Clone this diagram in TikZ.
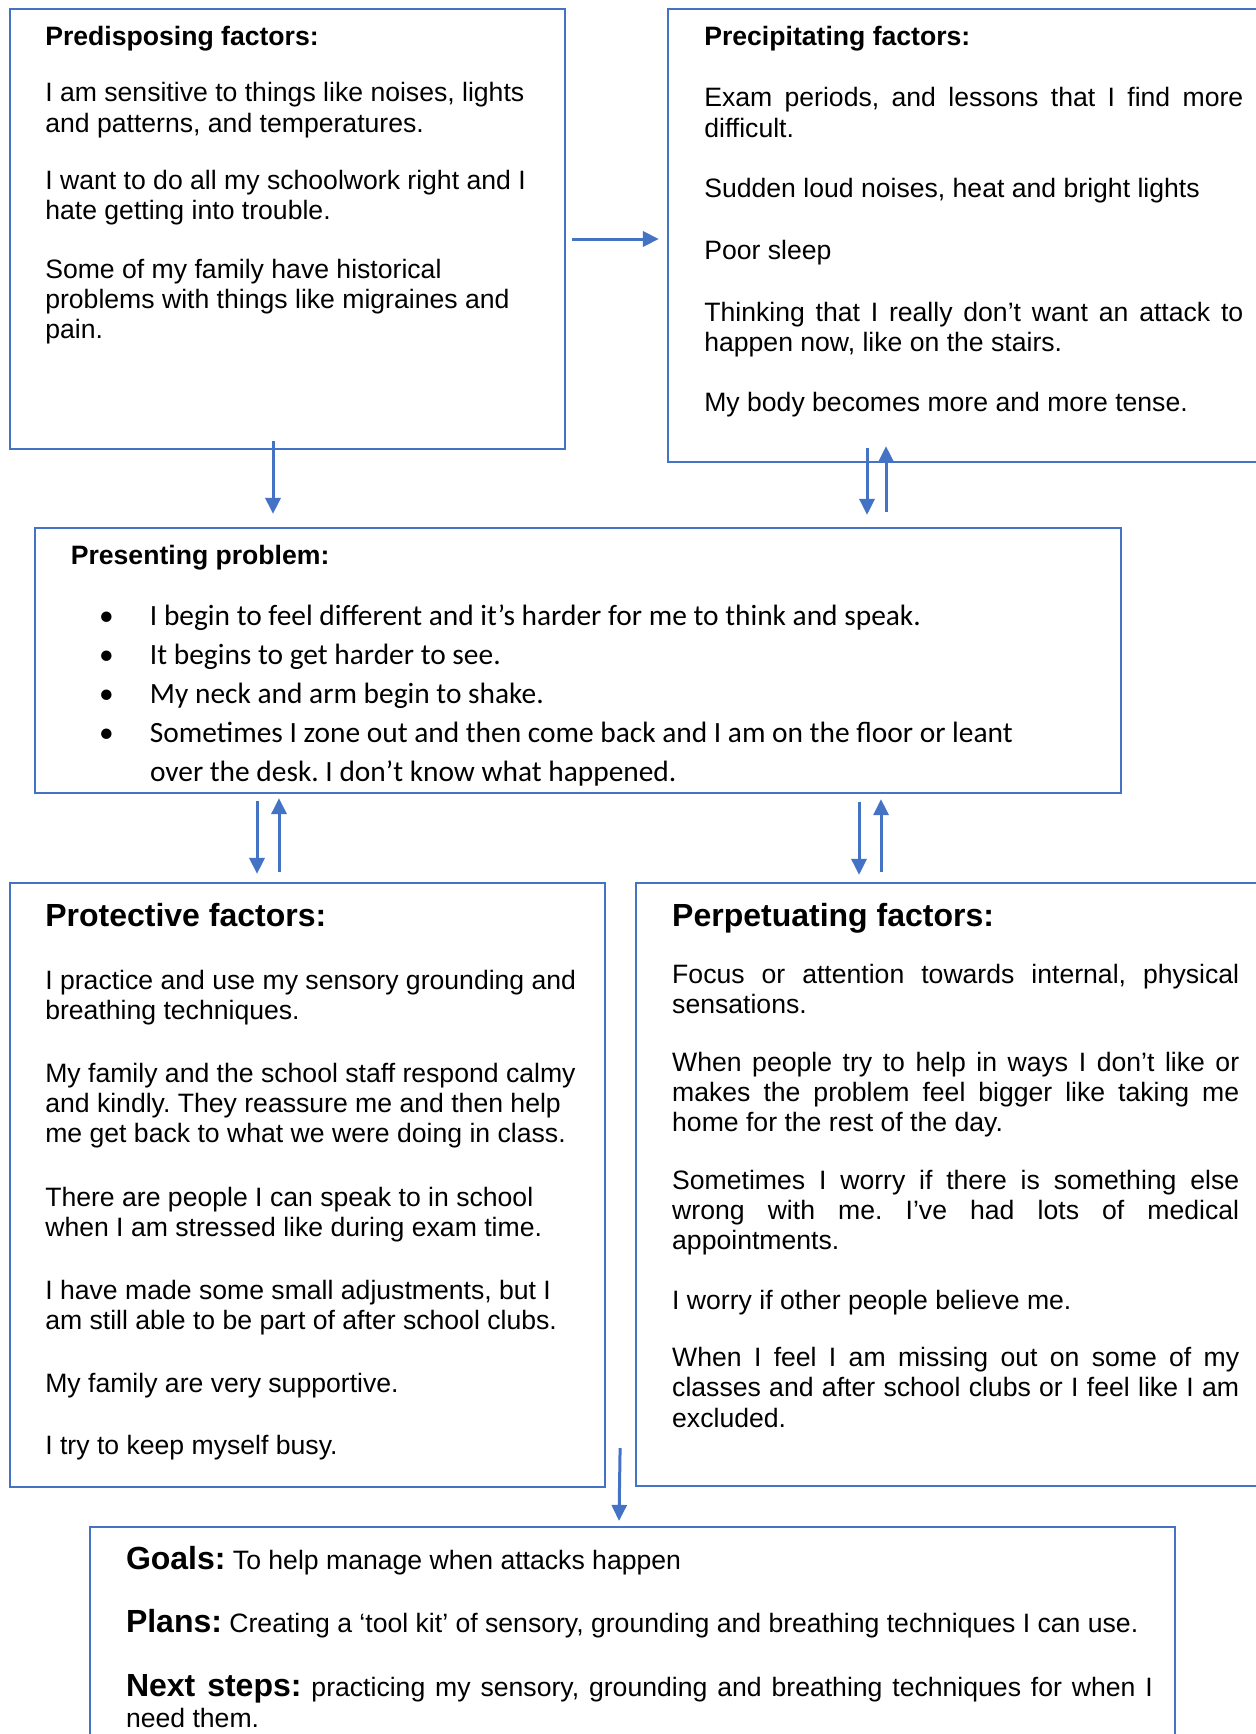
\documentclass[tikz,border=0pt]{standalone}
\usepackage{fontspec}
\setmainfont{Liberation Sans}
\newfontfamily\calibrifont{Carlito}
\usetikzlibrary{arrows.meta}
\definecolor{frameblue}{RGB}{68,114,196}

% body text and headings
\newcommand\bodyfont{\fontsize{13.3pt}{15.2pt}\selectfont\frenchspacing}
\newcommand\headfont{\fontsize{16pt}{18pt}\selectfont\bfseries}
% a paragraph whose first baseline sits on the node's base anchor
\newcommand\ragpar[1]{\parbox[t]{600pt}{\bodyfont\raggedright #1}}
\newcommand\juspar[2]{\parbox[t]{#1}{\bodyfont\tolerance=10000 #2}}

\tikzset{
  panel/.style={draw=frameblue, line width=1.1pt, fill=white, inner sep=0pt},
  flow/.style={draw=frameblue, line width=1.5pt, -{Triangle[width=7.5pt,length=8pt]}},
  txt/.style={anchor=base west, inner sep=0pt, outer sep=0pt},
}

\begin{document}
\begin{tikzpicture}[x=0.5pt,y=-0.5pt]
\useasboundingbox (0,0) rectangle (1256,1734);
\clip (0,0) rectangle (1256,1734);
\fill[white] (0,0) rectangle (1256,1734);

% ---- panels ----
\node[panel, minimum width=277.5pt, minimum height=220pt]   (b1) at (287.5,229) {};
\node[panel, minimum width=311pt,   minimum height=226.5pt] (b2) at (979,235.5) {};
\node[panel, minimum width=543pt,   minimum height=132.5pt] (b3) at (578,660.5) {};
\node[panel, minimum width=297.5pt, minimum height=302pt]   (b4) at (307.5,1185) {};
\node[panel, minimum width=327pt,   minimum height=301.5pt] (b5) at (963,1184.5) {};
\node[panel, minimum width=542.5pt, minimum height=116.5pt] (b6) at (632.5,1643.5) {};

% ---- connectors ----
\draw[flow] ([shift={(6,10)}]b1.east) -- ([shift={(-8,3.5)}]b2.west);
\draw[flow] ([shift={(-14.5,-9)}]b1.south) -- ([shift={(-305,-13)}]b3.north);
\draw[flow] ([shift={(-112,-15)}]b2.south) -- ([shift={(289,-12)}]b3.north);
\draw[flow] ([shift={(308,-15)}]b3.north) -- ([shift={(-93,-17)}]b2.south);
\draw[flow] ([shift={(-321,7)}]b3.south) -- ([shift={(-50.5,-8)}]b4.north);
\draw[flow] ([shift={(-28.5,-10)}]b4.north) -- ([shift={(-299,4)}]b3.south);
\draw[flow] ([shift={(281,8)}]b3.south) -- ([shift={(-104,-7)}]b5.north);
\draw[flow] ([shift={(-82,-10)}]b5.north) -- ([shift={(303,5)}]b3.south);
\draw[flow] ([shift={(14,-40)}]b4.south east) -- ([shift={(-13.5,-5)}]b6.north);

% ---- predisposing factors ----
\node[txt] (h1) at (45.3,45.5) {\bodyfont\bfseries Predisposing factors:};
\node[txt] (p1a) at (45.3,102) {\ragpar{I am sensitive to things like noises, lights\\and patterns, and temperatures.}};
\node[txt] (p1b) at (45.3,189.5) {\ragpar{I want to do all my schoolwork right and I\\hate getting into trouble.}};
\node[txt] (p1c) at (45.3,278) {\ragpar{Some of my family have historical\\problems with things like migraines and\\pain.}};

% ---- precipitating factors ----
\node[txt] (h2) at (704.3,45.3) {\bodyfont\bfseries Precipitating factors:};
\node[txt] (p2a) at (704.3,106.7) {\juspar{269.5pt}{Exam periods, and lessons that I find more\linebreak difficult.}};
\node[txt] (p2b) at (704.3,197.2) {\ragpar{Sudden loud noises, heat and bright lights}};
\node[txt] (p2c) at (704.3,259.2) {\ragpar{Poor sleep}};
\node[txt] (p2d) at (704.3,321.2) {\juspar{269.5pt}{Thinking that I really don’t want an attack to\linebreak happen now, like on the stairs.}};
\node[txt] (p2e) at (704.3,411.8) {\ragpar{My body becomes more and more tense.}};

% ---- presenting problem ----
\node[txt] (h3) at (70.8,564.2) {\bodyfont\bfseries Presenting problem:};
\begin{scope}
  \clip (b3.north west) rectangle ([yshift=-7]b3.south east);
  \node[txt] (p3) at (99,625) {\parbox[t]{520pt}{\calibrifont\fontsize{14.7pt}{19.6pt}\selectfont\frenchspacing\raggedright
    \makebox[25.5pt][l]{•}I begin to feel different and it’s harder for me to think and speak.\par
    \makebox[25.5pt][l]{•}It begins to get harder to see.\par
    \makebox[25.5pt][l]{•}My neck and arm begin to shake.\par
    \hangindent=25.5pt\hangafter=1
    \makebox[25.5pt][l]{•}Sometimes I zone out and then come back and I am on the floor or leant\newline
    over the desk. I don’t know what happened.\par}};
\end{scope}

% ---- protective factors ----
\node[txt] (h4) at (45.3,926.2) {\headfont Protective factors:};
\node[txt] (p4a) at (45.3,989) {\ragpar{I practice and use my sensory grounding and\\breathing techniques.}};
\node[txt] (p4b) at (45.3,1082) {\ragpar{My family and the school staff respond calmy\\and kindly. They reassure me and then help\\me get back to what we were doing in class.}};
\node[txt] (p4c) at (45.3,1206) {\ragpar{There are people I can speak to in school\\when I am stressed like during exam time.}};
\node[txt] (p4d) at (45.3,1299) {\ragpar{I have made some small adjustments, but I\\am still able to be part of after school clubs.}};
\node[txt] (p4e) at (45.3,1392) {\ragpar{My family are very supportive.}};
\node[txt] (p4f) at (45.3,1454.5) {\ragpar{I try to keep myself busy.}};

% ---- perpetuating factors ----
\node[txt] (h5) at (672.2,926.2) {\headfont Perpetuating factors:};
\node[txt] (p5a) at (672.2,983) {\juspar{283.5pt}{Focus or attention towards internal, physical\linebreak sensations.}};
\node[txt] (p5b) at (672.2,1071) {\juspar{283.5pt}{When people try to help in ways I don’t like or\linebreak makes the problem feel bigger like taking me\linebreak home for the rest of the day.}};
\node[txt] (p5c) at (672.2,1189) {\juspar{283.5pt}{Sometimes I worry if there is something else\linebreak wrong with me. I’ve had lots of medical\linebreak appointments.}};
\node[txt] (p5d) at (672.2,1309) {\ragpar{I worry if other people believe me.}};
\node[txt] (p5e) at (672.2,1366.5) {\juspar{283.5pt}{When I feel I am missing out on some of my\linebreak classes and after school clubs or I feel like I am\linebreak excluded.}};

% ---- goals and plans ----
\node[txt] (g1) at (126,1569.3) {\bodyfont{\headfont Goals:} To help manage when attacks happen};
\node[txt] (g2) at (126,1632.3) {\bodyfont{\headfont Plans:} Creating a ‘tool kit’ of sensory, grounding and breathing techniques I can use.};
\node[txt] (g3) at (126,1696.3) {\juspar{513.5pt}{\fontsize{13.3pt}{15.5pt}\selectfont{\headfont Next steps:} practicing my sensory, grounding and breathing techniques for when I\linebreak need them.}};
\end{tikzpicture}
\end{document}
